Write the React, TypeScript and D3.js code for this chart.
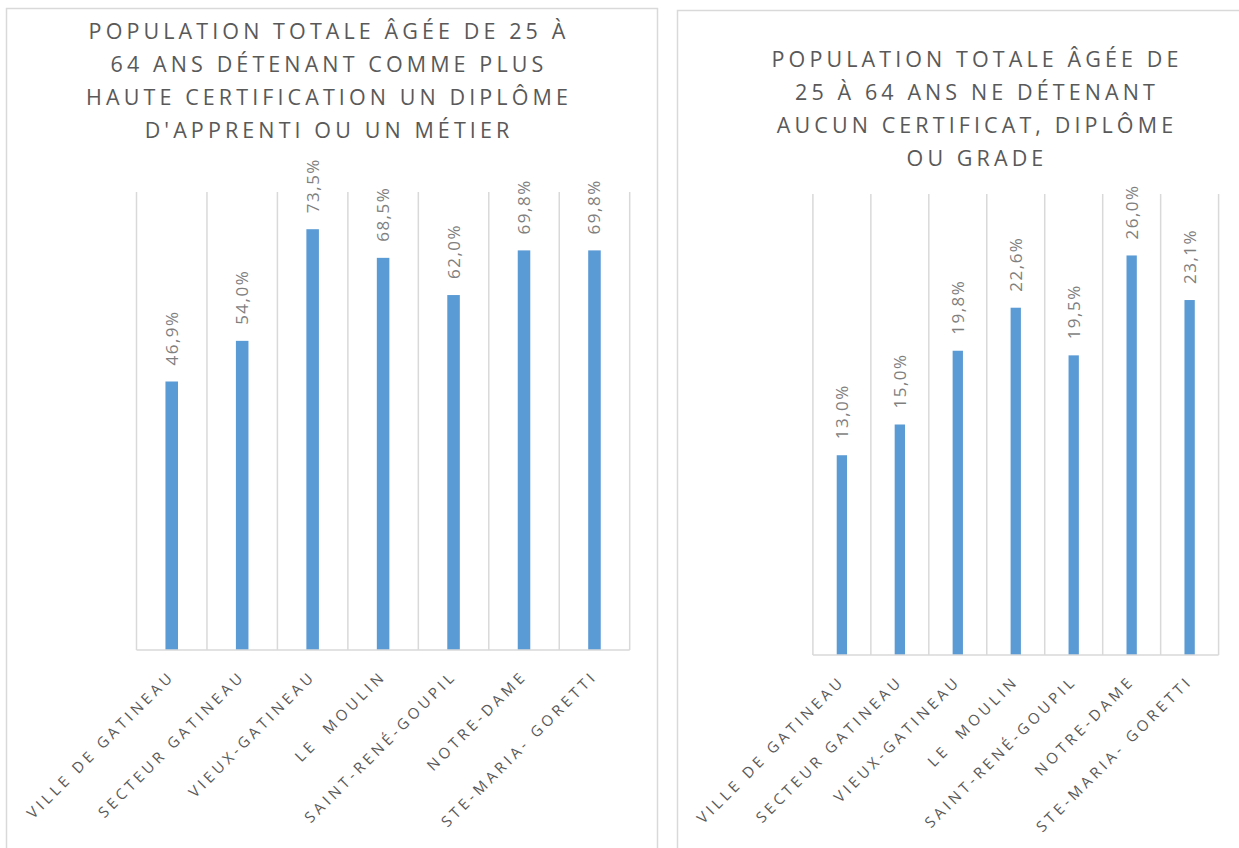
import React from "react";
import * as d3 from "d3";

const categories = [
  "VILLE DE GATINEAU",
  "SECTEUR GATINEAU",
  "VIEUX-GATINEAU",
  "LE  MOULIN",
  "SAINT-RENÉ-GOUPIL",
  "NOTRE-DAME",
  "STE-MARIA- GORETTI",
];

const apprentiValues = [0.469, 0.54, 0.735, 0.685, 0.62, 0.698, 0.698];
const aucunValues = [0.13, 0.15, 0.198, 0.226, 0.195, 0.26, 0.231];

const leftTitle = [
  "POPULATION TOTALE ÂGÉE DE 25 À",
  "64 ANS DÉTENANT COMME PLUS",
  "HAUTE CERTIFICATION UN DIPLÔME",
  "D'APPRENTI OU UN MÉTIER",
];
const rightTitle = [
  "POPULATION TOTALE ÂGÉE DE",
  "25 À 64 ANS NE DÉTENANT",
  "AUCUN CERTIFICAT, DIPLÔME",
  "OU GRADE",
];

const FONT = "'Open Sans', 'DejaVu Sans', sans-serif";
const BAR = "#5B9BD5";
const GRID = "#D9D9D9";
const TEXT = "#595959";
const LABEL = "#7F7F7F";

const fmt = (v: number) => (v * 100).toFixed(1).replace(".", ",") + "%";

type PanelProps = {
  box: { x: number; y: number; w: number; h: number };
  title: string[];
  titleX: number;
  titleY: number;
  values: number[];
  x0: number;
  x1: number;
  yBase: number;
  yTop: number;
  yMax: number;
};

function Panel({ box, title, titleX, titleY, values, x0, x1, yBase, yTop, yMax }: PanelProps) {
  const x = d3.scaleBand<string>().domain(categories).range([x0, x1]).paddingInner(0).paddingOuter(0);
  const y = d3.scaleLinear().domain([0, yMax]).range([yBase, yTop]);
  const bw = x.bandwidth() * 0.178;
  const boundaries = categories.map((c) => x(c) as number).concat([x1]);
  return (
    <g>
      <rect x={box.x} y={box.y} width={box.w} height={box.h} fill="#fff" stroke={GRID} strokeWidth={1.5} />
      {title.map((t, i) => (
        <text
          key={i}
          x={titleX}
          y={titleY + i * 33}
          textAnchor="middle"
          fontFamily={FONT}
          fontSize={21.5}
          letterSpacing={4.1}
          fill={TEXT}
        >
          {t}
        </text>
      ))}
      {boundaries.map((bx, i) => (
        <line key={i} x1={bx} x2={bx} y1={yTop} y2={yBase} stroke={GRID} strokeWidth={1.5} />
      ))}
      {categories.map((c, i) => {
        const cx = (x(c) as number) + x.bandwidth() / 2;
        return (
          <rect key={c} x={cx - bw / 2} y={y(values[i])} width={bw} height={yBase - y(values[i])} fill={BAR} />
        );
      })}
      <line x1={x0} x2={x1} y1={yBase} y2={yBase} stroke={GRID} strokeWidth={1.5} />
      {categories.map((c, i) => {
        const cx = (x(c) as number) + x.bandwidth() / 2;
        const ty = y(values[i]) - 16;
        return (
          <text
            key={c}
            transform={`translate(${cx + 6},${ty}) rotate(-90)`}
            fontFamily={FONT}
            fontSize={17}
            letterSpacing={1.5}
            fill={LABEL}
          >
            {fmt(values[i])}
          </text>
        );
      })}
      {categories.map((c) => {
        const cx = (x(c) as number) + x.bandwidth() / 2;
        return (
          <text
            key={c}
            transform={`translate(${cx + 4},${yBase + 27}) rotate(-45)`}
            textAnchor="end"
            fontFamily={FONT}
            fontSize={15}
            letterSpacing={3.8}
            fill={TEXT}
            style={{ whiteSpace: "pre" }}
          >
            {c}
          </text>
        );
      })}
    </g>
  );
}

export default function App() {
  return (
    <svg
      width={1239}
      height={848}
      style={{ position: "absolute", left: 0, top: 0, background: "#fff" }}
    >
      <Panel
        box={{ x: 6.5, y: 8.5, w: 651, h: 860 }}
        title={leftTitle}
        titleX={329}
        titleY={39}
        values={apprentiValues}
        x0={136.5}
        x1={629.7}
        yBase={650}
        yTop={192}
        yMax={0.8}
      />
      <Panel
        box={{ x: 677.5, y: 10.5, w: 600, h: 860 }}
        title={rightTitle}
        titleX={977}
        titleY={66.5}
        values={aucunValues}
        x0={812.9}
        x1={1218.6}
        yBase={655}
        yTop={194}
        yMax={0.3}
      />
    </svg>
  );
}
